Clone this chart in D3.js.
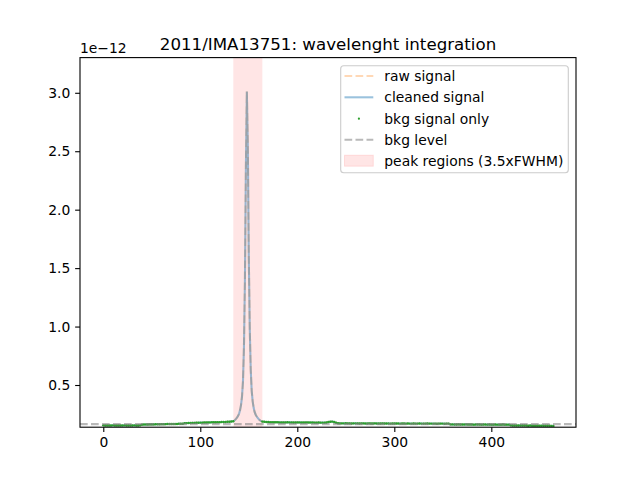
<!DOCTYPE html>
<html><head><meta charset="utf-8">
<script src="https://cdn.jsdelivr.net/npm/d3@7"></script>
<style>body{margin:0;background:#fff} text{font-family:"DejaVu Sans",sans-serif}</style>
</head><body><svg id="c" width="640" height="480"></svg>
<script>
const title = "2011/IMA13751: wavelenght integration";
const offsetLabel = "1e\u221212";
const xTicks = [0, 100, 200, 300, 400];
const xTickLabels = ["0", "100", "200", "300", "400"];
const yTicks = [0.5, 1.0, 1.5, 2.0, 2.5, 3.0];
const yTickLabels = ["0.5", "1.0", "1.5", "2.0", "2.5", "3.0"];

// sampling grid (pixel index) and flux values (x 1e-12)
const gridLeft = d3.range(0, 135, 2);
const fluxLeft = [
  0.155,0.154,0.154,0.153,0.154,0.155,0.154,0.154,0.153,0.154,0.154,0.155,0.154,0.153,0.154,0.154,0.155,0.154,0.154,0.155,
  0.161,0.162,0.162,0.162,0.163,0.163,0.163,0.164,0.164,0.164,0.165,0.165,0.165,0.166,0.166,0.166,0.167,0.167,0.167,0.168,0.168,0.168,
  0.174,0.174,0.175,0.175,0.176,0.176,0.177,0.177,0.178,0.178,0.179,0.179,0.180,0.180,0.181,0.181,0.181,0.182,
  0.182,0.183,0.183,0.184,0.185,0.186,0.188,0.190];
const gridPeak = d3.range(135, 164);
const fluxPeak = [
  0.196,0.203,0.212,0.222,0.236,0.255,0.285,0.33,0.40,0.53,0.82,1.38,2.35,3.01,
  2.55,1.60,0.98,0.63,0.45,0.36,0.305,0.27,0.248,0.232,0.220,0.210,0.202,0.196,0.191];
const gridRight = d3.range(164, 465, 2);
const fluxRight = [
  0.187,0.185,0.184,0.183,0.182,0.182,0.181,0.181,0.181,0.180,0.180,0.180,0.180,0.181,0.180,0.180,0.179,
  0.179,0.180,0.180,0.179,0.179,0.179,0.180,0.179,0.179,0.179,0.178,0.178,0.179,0.178,0.178,0.178,0.179,
  0.183,0.186,0.187,0.184,0.178,
  0.173,0.172,0.172,0.172,0.173,0.172,0.172,0.171,0.172,0.172,
  0.172,0.171,0.172,0.172,0.171,0.171,0.172,0.171,0.171,0.172,
  0.171,0.171,0.171,0.172,0.171,0.171,0.171,0.170,0.171,0.171,
  0.171,0.171,0.170,0.171,0.171,0.170,0.171,0.170,0.170,0.171,
  0.170,0.170,0.171,0.170,0.170,0.170,0.171,0.170,0.170,0.170,
  0.170,0.169,0.170,0.170,0.170,0.169,0.170,0.170,
  0.163,0.163,0.162,0.162,0.163,0.162,0.162,0.162,0.163,0.162,
  0.162,0.162,0.161,0.162,0.162,0.162,0.161,0.162,0.162,0.161,
  0.162,0.161,0.161,0.162,0.161,0.161,0.161,0.162,0.161,0.161,0.161,
  0.155,0.154,0.154,0.154,0.153,0.154,0.153,0.153,0.153,0.152,
  0.153,0.152,0.152,0.152,0.152,0.151,0.152,0.151,0.151,0.151,0.151,0.150,0.150];
const bkgLevel = 0.165;
const peakRegion = [134, 164];
const legendLabels = ["raw signal", "cleaned signal", "bkg signal only", "bkg level", "peak regions (3.5xFWHM)"];

const signal = gridLeft.map((g,i)=>[g, fluxLeft[i]])
  .concat(gridPeak.map((g,i)=>[g, fluxPeak[i]]))
  .concat(gridRight.map((g,i)=>[g, fluxRight[i]]));
const bkgPoints = signal.filter(d => d[0] <= peakRegion[0] || d[0] >= peakRegion[1]);

const L = 80, R = 576, T = 57.6, B = 427.2;
const x = d3.scaleLinear().domain([-24.0, 487.3]).range([L, R]);
const y = d3.scaleLinear().domain([0.139, 3.301]).range([B, T]);
const svg = d3.select("#c");
const fs = 13.89;

svg.append("defs").append("clipPath").attr("id","clip")
  .append("rect").attr("x",L).attr("y",T).attr("width",R-L).attr("height",B-T);
const plot = svg.append("g").attr("clip-path","url(#clip)");

plot.append("rect").attr("x", x(peakRegion[0])).attr("y", T)
  .attr("width", x(peakRegion[1]) - x(peakRegion[0])).attr("height", B - T)
  .attr("fill", "red").attr("fill-opacity", 0.1);

const line = d3.line().x(d => x(d[0])).y(d => y(d[1]));
plot.append("path").datum(signal).attr("d", line).attr("fill","none")
  .attr("stroke","#ff7f0e").attr("stroke-opacity",0.3).attr("stroke-width",2.08)
  .attr("stroke-dasharray","7.7,3.3");
plot.append("path").datum(signal).attr("d", line).attr("fill","none")
  .attr("stroke","#1f77b4").attr("stroke-opacity",0.45).attr("stroke-width",2.08);
plot.selectAll("circle.bkg").data(bkgPoints).join("circle").attr("class","bkg")
  .attr("cx", d => x(d[0])).attr("cy", d => y(d[1])).attr("r", 1.2)
  .attr("fill", "#2ca02c").attr("fill-opacity", 1);
plot.append("line").attr("x1", L).attr("x2", R).attr("y1", y(bkgLevel)).attr("y2", y(bkgLevel))
  .attr("stroke","#808080").attr("stroke-opacity",0.55).attr("stroke-width",2.08)
  .attr("stroke-dasharray","7.7,3.3");

// axes
const xa = svg.append("g").attr("transform",`translate(0,${B})`)
  .call(d3.axisBottom(x).tickValues(xTicks).tickFormat((d,i)=>xTickLabels[i]).tickSize(4.86).tickPadding(4.86));
const ya = svg.append("g").attr("transform",`translate(${L},0)`)
  .call(d3.axisLeft(y).tickValues(yTicks).tickFormat((d,i)=>yTickLabels[i]).tickSize(4.86).tickPadding(4.86));
[xa, ya].forEach(a => {
  a.select(".domain").remove();
  a.selectAll("line").attr("stroke","#000").attr("stroke-width",1.1);
  a.selectAll("text").attr("fill","#000").style("font-size", fs+"px").style("font-family","DejaVu Sans");
});
svg.append("rect").attr("x",L).attr("y",T).attr("width",R-L).attr("height",B-T)
  .attr("fill","none").attr("stroke","#000").attr("stroke-width",1.1);

svg.append("text").attr("x",(L+R)/2).attr("y",49.5).attr("text-anchor","middle")
  .style("font-size","16.67px").text(title);
svg.append("text").attr("x",L).attr("y",52.5).style("font-size",fs+"px").text(offsetLabel);

// legend
const lg = svg.append("g");
lg.append("rect").attr("x",340.7).attr("y",65.7).attr("width",227.6).attr("height",107)
  .attr("rx",3).attr("fill","#fff").attr("fill-opacity",0.8).attr("stroke","#cccccc").attr("stroke-width",1.1);
const rows = [76, 97.3, 118.7, 139.7, 160.7];
const hx0 = 344.5, hx1 = 373.3;
lg.append("line").attr("x1",hx0).attr("x2",hx1).attr("y1",rows[0]).attr("y2",rows[0])
  .attr("stroke","#ff7f0e").attr("stroke-opacity",0.3).attr("stroke-width",2.08).attr("stroke-dasharray","7.7,3.3");
lg.append("line").attr("x1",hx0).attr("x2",hx1).attr("y1",rows[1]).attr("y2",rows[1])
  .attr("stroke","#1f77b4").attr("stroke-opacity",0.45).attr("stroke-width",2.08);
lg.append("circle").attr("cx",(hx0+hx1)/2).attr("cy",rows[2]).attr("r",1.1).attr("fill","#2ca02c");
lg.append("line").attr("x1",hx0).attr("x2",hx1).attr("y1",rows[3]).attr("y2",rows[3])
  .attr("stroke","#808080").attr("stroke-opacity",0.55).attr("stroke-width",2.08).attr("stroke-dasharray","7.7,3.3");
lg.append("rect").attr("x",hx0).attr("y",rows[4]-5.5).attr("width",hx1-hx0).attr("height",11)
  .attr("fill","red").attr("fill-opacity",0.1).attr("stroke","red").attr("stroke-opacity",0.1);
legendLabels.forEach((t,i) => {
  lg.append("text").attr("x",384.3).attr("y",rows[i]+5).style("font-size",fs+"px").text(t);
});
</script></body></html>
